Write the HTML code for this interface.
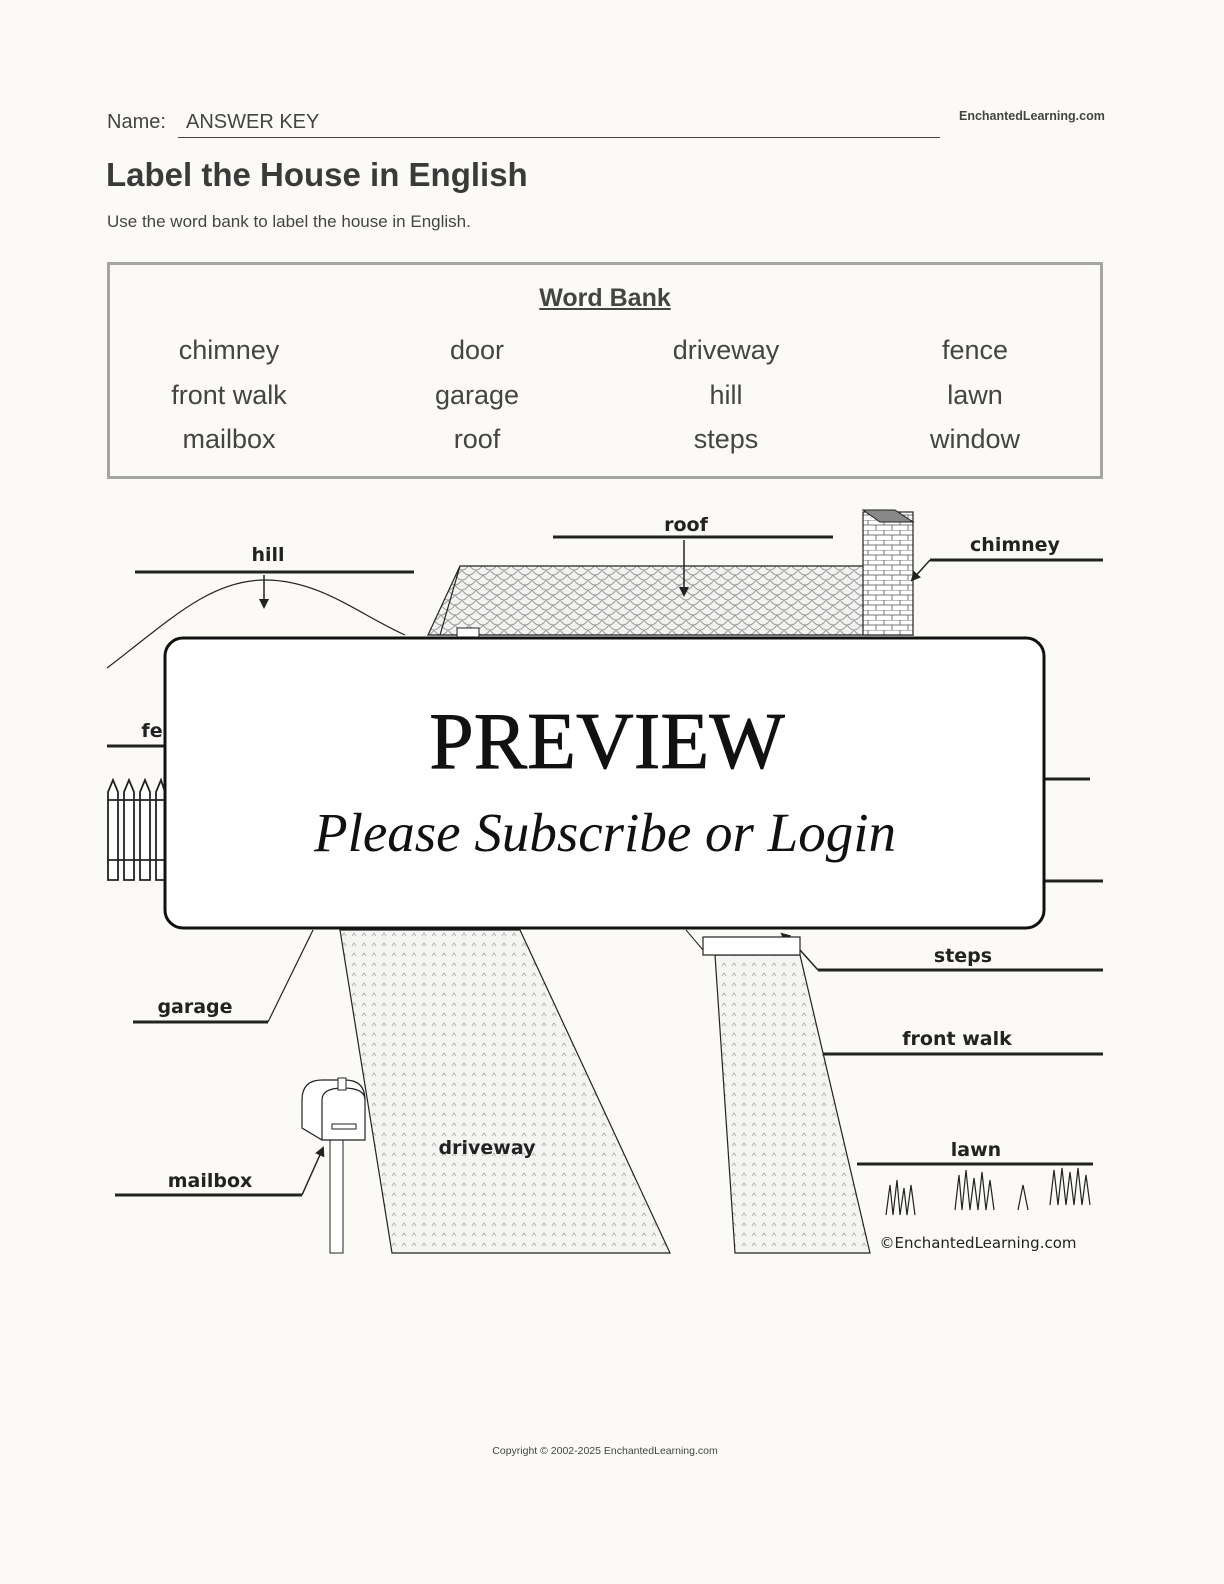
<!DOCTYPE html>
<html><head><meta charset="utf-8"><style>
body{margin:0;background:#fbfaf6;width:1224px;height:1584px;position:relative;font-family:"Liberation Sans",sans-serif;color:#333;overflow:hidden}
.a{position:absolute;white-space:nowrap}
</style></head><body>
<div class="a" style="left:107px;top:111px;font-size:20px;color:#444">Name:</div>
<div class="a" style="left:186px;top:111px;font-size:20px;color:#444">ANSWER KEY</div>
<div class="a" style="left:178px;top:137px;width:762px;height:0;border-top:1.5px solid #444"></div>
<div class="a" style="left:959px;top:109px;font-size:12.5px;font-weight:bold;color:#444">EnchantedLearning.com</div>
<div class="a" style="left:106px;top:156px;font-size:33px;font-weight:bold;color:#3a3a3a">Label the House in English</div>
<div class="a" style="left:107px;top:212px;font-size:17px;color:#444">Use the word bank to label the house in English.</div>
<div class="a" style="left:107px;top:262px;width:990px;height:211px;border:3px solid #a5a5a2"></div>
<div class="a" style="left:0;width:1210px;top:284px;text-align:center;font-size:25px;font-weight:bold;text-decoration:underline;color:#444">Word Bank</div>
<div style="position:absolute;left:0;top:328px;font-size:27px;color:#444;line-height:44.5px">
<div class="a" style="left:129px;width:200px;text-align:center">chimney<br>front walk<br>mailbox</div>
<div class="a" style="left:377px;width:200px;text-align:center">door<br>garage<br>roof</div>
<div class="a" style="left:626px;width:200px;text-align:center">driveway<br>hill<br>steps</div>
<div class="a" style="left:875px;width:200px;text-align:center">fence<br>lawn<br>window</div>
</div>
<svg class="a" style="left:0;top:0" width="1224" height="1584" viewBox="0 0 1224 1584">
<defs>
<pattern id="sh" width="14" height="10" patternUnits="userSpaceOnUse"><rect width="14" height="10" fill="#f2f2f0"/><path d="M0 0 Q7 10 14 0 M-7 5 Q0 15 7 5 M7 5 Q14 15 21 5" stroke="#999" fill="none" stroke-width="1"/></pattern>
<pattern id="dt" width="10" height="10" patternUnits="userSpaceOnUse"><rect width="10" height="10" fill="#f4f4f2"/><path d="M2 6 L4 3 L6 6" stroke="#aaa" fill="none" stroke-width="0.8"/></pattern>
<pattern id="br" width="16" height="10" patternUnits="userSpaceOnUse"><rect width="16" height="10" fill="#fff"/><path d="M0 0H16M0 5H16M4 0V5M12 5V10" stroke="#777" stroke-width="1"/></pattern>
<marker id="ar" markerWidth="10" markerHeight="10" refX="8" refY="5" orient="auto" markerUnits="userSpaceOnUse"><path d="M0 0L10 5L0 10Z" fill="#222"/></marker>
</defs>
<g stroke="#222" fill="none">
<path d="M107 668 C170 620 210 580 265 580 C320 580 360 615 405 635" stroke-width="1.2"/>
<polygon points="460,566 878,566 913,635 428,635" fill="url(#sh)" stroke-width="1.2"/>
<line x1="460" y1="566" x2="440" y2="635" stroke-width="1.2"/>
<rect x="457" y="628" width="22" height="10" fill="#fff"/>
<rect x="863" y="512" width="50" height="123" fill="url(#br)" stroke-width="1.2"/>
<polygon points="863,510 895,510 913,522 880,522" fill="#888" stroke-width="1"/>
<g stroke-width="3">
<line x1="135" y1="572" x2="414" y2="572"/><line x1="553" y1="537" x2="833" y2="537"/>
<line x1="930" y1="560" x2="1103" y2="560"/><line x1="107" y1="746" x2="165" y2="746"/>
<line x1="1044" y1="779" x2="1090" y2="779"/><line x1="1044" y1="881" x2="1103" y2="881"/>
<line x1="818" y1="970" x2="1103" y2="970"/><line x1="133" y1="1022" x2="268" y2="1022"/>
<line x1="790" y1="1054" x2="1103" y2="1054"/><line x1="115" y1="1195" x2="302" y2="1195"/>
<line x1="397" y1="1164" x2="579" y2="1164"/><line x1="857" y1="1164" x2="1093" y2="1164"/>
</g>
<line x1="264" y1="575" x2="264" y2="607" marker-end="url(#ar)" stroke-width="1.5"/>
<line x1="684" y1="540" x2="684" y2="595" marker-end="url(#ar)" stroke-width="1.5"/>
<line x1="930" y1="560" x2="912" y2="580" marker-end="url(#ar)" stroke-width="1.5"/>
<path d="M818 970 L800 950" stroke-width="1.5"/><line x1="800" y1="950" x2="782" y2="934" marker-end="url(#ar)" stroke-width="1.5"/>
<line x1="268" y1="1022" x2="313" y2="930" stroke-width="1.2"/>
<line x1="800" y1="1053" x2="768" y2="1053" marker-end="url(#ar)" stroke-width="1.5"/>
<line x1="302" y1="1195" x2="323" y2="1148" marker-end="url(#ar)" stroke-width="1.5"/>
<g stroke-width="1.8" fill="#fff">
<path d="M108 880V792L113 780L118 792V880Z M124 880V792L129 780L134 792V880Z M140 880V792L145 780L150 792V880Z M156 880V792L161 780L165 792V880Z"/>
<path d="M107 800H165M107 860H165" fill="none"/>
</g>
<polygon points="340,930 520,930 670,1253 392,1253" fill="url(#dt)" stroke-width="1.2"/>
<polygon points="715,955 800,955 870,1253 735,1253" fill="url(#dt)" stroke-width="1.2"/>
<rect x="703" y="937" width="97" height="18" fill="#fff" stroke-width="1.2"/>
<line x1="686" y1="930" x2="703" y2="950"/>
<rect x="330" y="1140" width="13" height="113" fill="#fff"/>
<path d="M302 1128 V1100 Q302 1080 322 1080 H345 Q365 1080 365 1100 V1140 H322 L302 1128Z" fill="#fff" stroke-width="1.2"/>
<path d="M322 1140 V1100 Q322 1088 343 1088 Q365 1088 365 1100" stroke-width="1.2"/>
<rect x="332" y="1124" width="24" height="5" />
<rect x="338" y="1078" width="8" height="12" fill="#fff"/>
<path d="M886 1215 L890 1185 L893 1215 L897 1180 L900 1215 L904 1188 L907 1215 L911 1185 L915 1215 M955 1210 L959 1175 L962 1210 L966 1170 L970 1210 L974 1178 L978 1210 L982 1172 L986 1210 L990 1180 L994 1210 M1018 1210 L1023 1185 L1028 1210 M1050 1205 L1054 1170 L1058 1205 L1062 1168 L1066 1205 L1070 1172 L1074 1205 L1078 1168 L1082 1205 L1086 1175 L1090 1205" stroke-width="1.2"/>
</g>
<g font-family="DejaVu Sans,Liberation Sans,sans-serif" font-weight="bold" font-size="19" fill="#222" text-anchor="middle">
<text x="268" y="561">hill</text><text x="686" y="531">roof</text><text x="1015" y="551">chimney</text>
<text x="152" y="737">fe</text><text x="963" y="962">steps</text><text x="195" y="1013">garage</text>
<text x="957" y="1045">front walk</text><text x="210" y="1187">mailbox</text><text x="487" y="1154">driveway</text>
<text x="976" y="1156">lawn</text>
<text x="978" y="1248" font-weight="normal" font-size="15">©EnchantedLearning.com</text>
</g>
<rect x="165" y="638" width="879" height="290" rx="18" fill="#fff" stroke="#111" stroke-width="3"/>
<text x="607" y="768" text-anchor="middle" font-family="Liberation Serif,serif" font-size="80" fill="#111" stroke="#111" stroke-width="0.8">PREVIEW</text>
<text x="605" y="851" text-anchor="middle" font-family="Liberation Serif,serif" font-style="italic" font-size="55" fill="#111">Please Subscribe or Login</text>
</svg>
<div class="a" style="left:0;width:1210px;top:1445px;text-align:center;font-size:10.5px;color:#444">Copyright © 2002-2025 EnchantedLearning.com</div>
</body></html>
